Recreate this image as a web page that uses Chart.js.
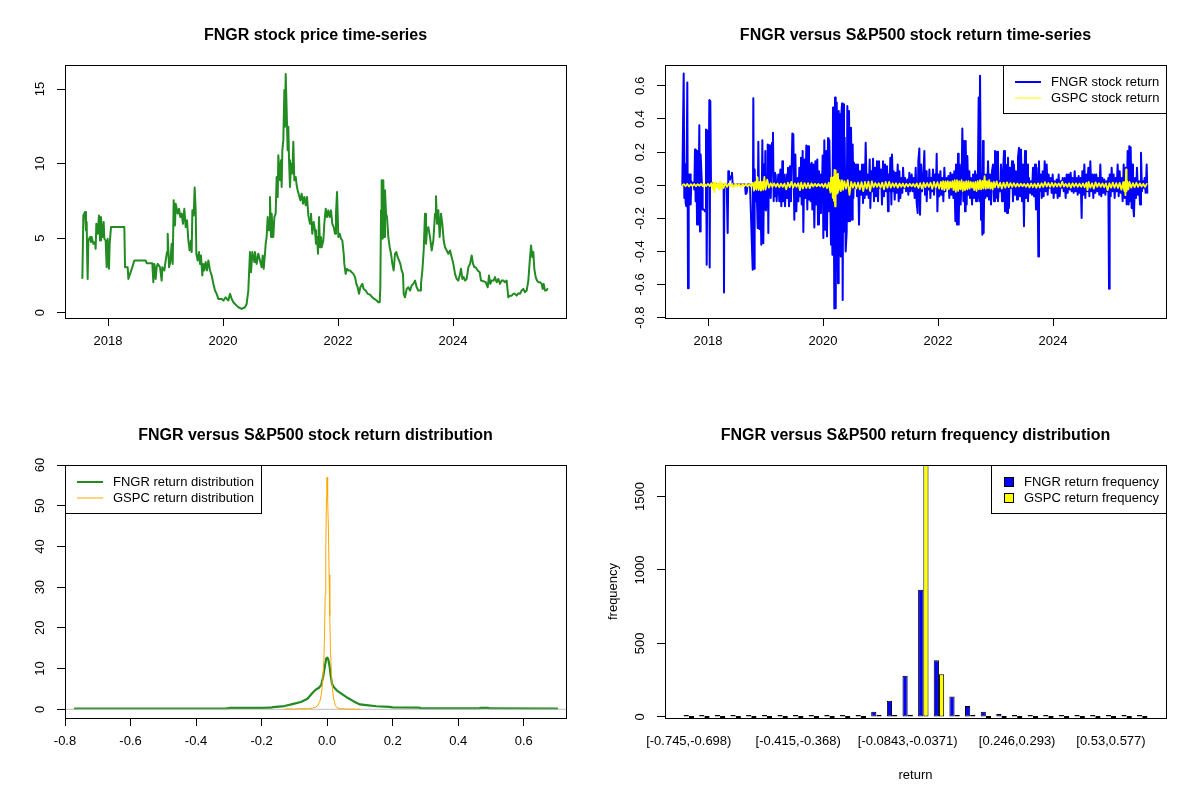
<!DOCTYPE html>
<html lang="en">
<head>
  <meta charset="UTF-8" />
  <title>FNGR versus S&amp;P500</title>
  <script src="https://cdn.jsdelivr.net/npm/chart.js"></script>
  <style>
    body { margin: 0; background: #fff; }
    #grid { position: relative; width: 1200px; height: 800px; }
    .panel { position: absolute; width: 600px; height: 400px; }
  </style>
</head>
<body>

<div id="grid">
  <div class="panel" style="left:0;top:0"><canvas id="priceChart" width="600" height="400"></canvas></div>
  <div class="panel" style="left:600px;top:0"><canvas id="returnChart" width="600" height="400"></canvas></div>
  <div class="panel" style="left:0;top:400px"><canvas id="densityChart" width="600" height="400"></canvas></div>
  <div class="panel" style="left:600px;top:400px"><canvas id="freqChart" width="600" height="400"></canvas></div>
</div>

<script>
  // ---- tick values / labels ----
  const yearTicks = [2018, 2020, 2022, 2024];
  const yearLabels = ['2018', '2020', '2022', '2024'];
  const priceTicks = [0, 5, 10, 15];
  const priceLabels = ['0', '5', '10', '15'];
  const returnTicks = [-0.8, -0.6, -0.4, -0.2, 0, 0.2, 0.4, 0.6];
  const returnLabels = ['-0.8', '-0.6', '-0.4', '-0.2', '0.0', '0.2', '0.4', '0.6'];
  const densityTicks = [0, 10, 20, 30, 40, 50, 60];
  const densityLabels = ['0', '10', '20', '30', '40', '50', '60'];
  const freqTicks = [0, 500, 1000, 1500];
  const freqLabels = ['0', '500', '1000', '1500'];

  // ---- FNGR closing price [year, price] ----
  const fngrPrice = [
    [2017.554,2.33],[2017.571,6.52],[2017.600,6.75],[2017.617,5.52],[2017.629,6.08],[2017.635,4.28],[2017.646,2.26],
    [2017.658,4.84],[2017.687,5.07],[2017.704,4.73],[2017.716,5.07],[2017.745,4.62],[2017.774,4.73],[2017.785,4.28],
    [2017.797,5.96],[2017.820,5.29],[2017.843,6.52],[2017.861,4.84],[2017.878,6.41],[2017.901,5.07],[2017.925,6.08],
    [2017.936,4.96],[2017.959,4.84],[2017.977,3.05],[2017.994,4.96],[2018.017,2.94],[2018.029,4.62],[2018.052,5.74],
    [2018.284,5.74],[2018.296,3.05],[2018.342,3.05],[2018.354,2.26],[2018.383,2.60],[2018.423,3.05],[2018.458,3.50],
    [2018.655,3.50],[2018.672,3.32],[2018.771,3.32],[2018.788,2.04],[2018.806,3.27],[2018.829,2.26],[2018.846,3.05],
    [2018.864,3.27],[2018.904,3.05],[2018.933,2.15],[2018.945,3.05],[2018.980,2.83],[2019.003,3.50],[2019.026,4.06],
    [2019.038,5.29],[2019.061,3.05],[2019.084,3.39],[2019.107,4.62],[2019.125,3.27],[2019.142,7.53],[2019.165,5.85],
    [2019.177,7.31],[2019.211,6.64],[2019.235,6.97],[2019.258,6.41],[2019.281,6.64],[2019.304,5.96],[2019.327,6.97],
    [2019.351,5.74],[2019.374,6.19],[2019.397,4.84],[2019.420,4.17],[2019.443,4.84],[2019.455,4.06],[2019.467,6.86],
    [2019.490,6.52],[2019.507,8.39],[2019.525,6.86],[2019.536,3.95],[2019.559,3.50],[2019.582,4.06],[2019.600,3.27],
    [2019.617,3.83],[2019.640,2.49],[2019.658,3.27],[2019.675,2.83],[2019.698,3.39],[2019.722,2.83],[2019.745,3.50],
    [2019.774,2.83],[2019.803,2.49],[2019.832,1.93],[2019.861,1.48],[2019.890,1.26],[2019.919,0.92],[2019.977,0.92],
    [2020.006,0.81],[2020.046,1.03],[2020.093,0.81],[2020.122,1.26],[2020.151,0.92],[2020.180,0.70],[2020.209,0.58],
    [2020.238,0.47],[2020.267,0.36],[2020.325,0.25],[2020.382,0.36],[2020.411,0.58],[2020.440,1.48],[2020.469,4.06],
    [2020.487,2.71],[2020.510,4.06],[2020.545,3.39],[2020.556,4.06],[2020.585,3.27],[2020.614,3.95],[2020.643,3.50],
    [2020.672,3.05],[2020.690,3.83],[2020.707,2.94],[2020.730,3.95],[2020.742,4.62],[2020.759,5.07],[2020.777,6.41],
    [2020.800,5.52],[2020.817,7.76],[2020.835,5.07],[2020.846,6.64],[2020.858,5.74],[2020.875,5.07],[2020.893,6.41],
    [2020.916,6.64],[2020.933,9.10],[2020.951,7.76],[2020.962,10.56],[2020.991,8.88],[2021.009,10.22],[2021.020,8.43],
    [2021.032,10.90],[2021.049,11.57],[2021.067,14.93],[2021.078,12.47],[2021.090,16.01],[2021.107,13.59],[2021.124,10.90],
    [2021.136,12.47],[2021.148,10.22],[2021.165,8.43],[2021.182,10.00],[2021.206,9.33],[2021.223,11.46],[2021.240,8.88],
    [2021.264,9.10],[2021.281,8.54],[2021.298,8.21],[2021.322,7.87],[2021.345,7.53],[2021.368,7.98],[2021.391,7.31],
    [2021.414,7.76],[2021.438,7.20],[2021.461,7.76],[2021.484,6.52],[2021.513,5.96],[2021.530,6.64],[2021.553,5.29],
    [2021.577,6.08],[2021.600,5.52],[2021.617,4.62],[2021.635,5.07],[2021.652,3.95],[2021.670,6.41],[2021.687,4.39],
    [2021.704,5.07],[2021.716,4.39],[2021.745,4.84],[2021.762,5.96],[2021.786,6.97],[2021.809,6.41],[2021.832,6.86],
    [2021.855,6.41],[2021.878,6.86],[2021.901,5.96],[2021.925,5.74],[2021.948,5.29],[2021.965,6.64],[2021.983,8.09],
    [2022.006,5.07],[2022.029,5.29],[2022.052,4.96],[2022.075,4.84],[2022.099,3.95],[2022.110,3.27],[2022.133,2.60],
    [2022.157,2.94],[2022.180,2.83],[2022.209,2.83],[2022.238,2.71],[2022.267,2.60],[2022.296,2.38],[2022.319,1.93],
    [2022.342,1.70],[2022.365,1.26],[2022.388,1.70],[2022.423,1.93],[2022.446,1.59],[2022.481,1.48],[2022.516,1.26],
    [2022.557,1.21],[2022.597,1.03],[2022.632,0.92],[2022.672,0.81],[2022.701,0.70],[2022.725,0.70],[2022.736,1.70],
    [2022.748,6.86],[2022.759,8.88],[2022.777,4.96],[2022.788,8.88],[2022.800,5.07],[2022.817,8.21],[2022.835,6.64],
    [2022.852,6.41],[2022.875,5.07],[2022.899,4.39],[2022.922,3.95],[2022.945,3.27],[2022.968,2.83],[2022.991,3.95],
    [2023.014,4.06],[2023.038,3.72],[2023.061,3.50],[2023.084,3.27],[2023.107,2.83],[2023.130,2.60],[2023.142,1.26],
    [2023.165,1.03],[2023.194,1.59],[2023.223,1.70],[2023.252,1.48],[2023.281,1.82],[2023.310,1.93],[2023.339,2.15],
    [2023.368,1.70],[2023.397,1.48],[2023.426,1.48],[2023.443,1.93],[2023.467,2.83],[2023.490,4.17],[2023.513,6.64],
    [2023.530,4.62],[2023.548,5.52],[2023.571,5.74],[2023.600,5.07],[2023.629,4.17],[2023.658,4.84],[2023.687,6.64],
    [2023.704,7.80],[2023.722,5.96],[2023.745,6.86],[2023.768,5.07],[2023.791,6.64],[2023.814,5.96],[2023.838,4.84],
    [2023.861,4.39],[2023.890,4.17],[2023.919,3.95],[2023.948,4.17],[2023.977,3.72],[2024.006,3.27],[2024.035,2.60],
    [2024.064,2.26],[2024.093,2.15],[2024.122,2.60],[2024.139,2.94],[2024.162,2.26],[2024.185,2.38],[2024.209,2.15],
    [2024.238,2.26],[2024.267,3.05],[2024.296,3.27],[2024.325,3.83],[2024.348,3.27],[2024.371,3.05],[2024.394,3.05],
    [2024.429,2.83],[2024.464,2.71],[2024.487,2.15],[2024.527,2.11],[2024.568,2.04],[2024.603,1.70],[2024.626,2.49],
    [2024.649,1.93],[2024.672,2.15],[2024.707,2.15],[2024.730,2.38],[2024.759,2.04],[2024.788,2.26],[2024.817,1.93],
    [2024.846,2.15],[2024.875,2.15],[2024.904,2.04],[2024.933,2.15],[2024.962,1.03],[2024.991,1.14],[2025.020,1.14],
    [2025.049,1.26],[2025.078,1.26],[2025.107,1.14],[2025.136,1.30],[2025.165,1.26],[2025.194,1.48],[2025.223,1.59],
    [2025.252,1.37],[2025.281,1.48],[2025.310,2.15],[2025.333,3.39],[2025.357,4.51],[2025.380,3.72],[2025.397,4.06],
    [2025.414,2.94],[2025.438,2.38],[2025.461,2.15],[2025.484,2.04],[2025.513,2.04],[2025.542,1.93],[2025.559,1.59],
    [2025.577,1.93],[2025.600,1.48],[2025.623,1.48],[2025.641,1.59]
  ];

  // ---- FNGR daily return [year, return] ----
  const fngrReturn = [
    [2017.553,0.0],[2017.577,0.675],[2017.588,-0.077],[2017.600,0.125],[2017.611,-0.107],[2017.623,-0.127],[2017.640,0.620],
    [2017.652,-0.622],[2017.664,0.065],[2017.675,-0.016],[2017.687,0.065],[2017.698,-0.117],[2017.710,0.024],[2017.722,0.004],
    [2017.745,0.014],[2017.762,-0.026],[2017.774,0.216],[2017.785,-0.097],[2017.797,0.210],[2017.809,-0.238],[2017.820,0.206],
    [2017.832,-0.238],[2017.849,0.362],[2017.861,-0.279],[2017.872,0.186],[2017.896,-0.016],[2017.907,-0.147],[2017.930,-0.147],
    [2017.948,-0.158],[2017.965,0.337],[2017.977,-0.481],[2017.994,0.331],[2018.011,-0.006],[2018.023,0.513],[2018.029,-0.497],
    [2018.040,0.509],[2018.052,0.004],[2018.064,0.014],[2018.093,0.004],[2018.122,0.008],[2018.180,0.004],[2018.226,0.004],
    [2018.272,0.0],[2018.278,-0.648],[2018.284,0.004],[2018.307,-0.006],[2018.325,0.004],[2018.342,-0.289],[2018.353,0.085],
    [2018.365,0.044],[2018.382,0.034],[2018.400,0.055],[2018.417,0.075],[2018.429,0.004],[2018.469,0.004],[2018.585,0.004],
    [2018.643,0.004],[2018.655,-0.053],[2018.672,-0.046],[2018.690,0.004],[2018.730,0.004],[2018.777,-0.511],[2018.788,0.525],
    [2018.800,-0.505],[2018.811,0.095],[2018.823,-0.097],[2018.835,-0.036],[2018.852,-0.097],[2018.864,-0.259],[2018.875,0.263],
    [2018.893,-0.265],[2018.910,-0.036],[2018.927,-0.360],[2018.945,0.271],[2018.962,-0.350],[2018.974,0.125],[2018.985,-0.147],
    [2018.997,0.206],[2019.009,-0.152],[2019.026,0.065],[2019.038,0.246],[2019.049,-0.289],[2019.061,0.242],[2019.078,0.065],
    [2019.090,-0.077],[2019.101,0.065],[2019.113,0.257],[2019.130,0.317],[2019.142,-0.097],[2019.153,0.075],[2019.165,-0.067],
    [2019.177,0.065],[2019.194,-0.097],[2019.206,-0.016],[2019.223,0.065],[2019.240,-0.097],[2019.258,0.095],[2019.275,-0.127],
    [2019.293,0.145],[2019.304,-0.097],[2019.322,0.065],[2019.339,-0.127],[2019.362,0.065],[2019.374,-0.077],[2019.391,0.105],
    [2019.409,-0.127],[2019.426,0.115],[2019.443,-0.097],[2019.467,0.313],[2019.484,0.307],[2019.501,-0.208],[2019.519,0.186],
    [2019.536,-0.158],[2019.553,0.044],[2019.571,-0.097],[2019.588,0.105],[2019.600,-0.067],[2019.617,0.166],[2019.629,-0.117],
    [2019.646,0.206],[2019.658,-0.283],[2019.675,0.156],[2019.693,-0.077],[2019.710,0.240],[2019.727,-0.147],[2019.739,0.236],
    [2019.756,-0.087],[2019.774,0.125],[2019.785,-0.097],[2019.803,0.135],[2019.814,-0.147],[2019.832,0.125],[2019.849,-0.255],
    [2019.867,0.145],[2019.884,-0.117],[2019.901,0.156],[2019.913,-0.238],[2019.930,0.085],[2019.948,-0.168],[2019.965,0.065],
    [2019.977,-0.107],[2019.994,0.180],[2020.006,-0.319],[2020.023,0.271],[2020.040,-0.269],[2020.058,0.206],[2020.069,-0.309],
    [2020.087,0.283],[2020.098,-0.158],[2020.110,0.271],[2020.139,-0.360],[2020.151,0.004],[2020.163,-0.420],[2020.174,0.469],
    [2020.186,0.004],[2020.197,-0.745],[2020.209,0.529],[2020.221,-0.743],[2020.238,0.499],[2020.250,0.125],[2020.261,-0.592],
    [2020.273,0.448],[2020.284,-0.370],[2020.296,0.428],[2020.308,-0.430],[2020.319,0.428],[2020.331,0.493],[2020.342,-0.693],
    [2020.354,0.489],[2020.365,-0.279],[2020.377,0.287],[2020.394,-0.400],[2020.412,-0.279],[2020.423,0.479],[2020.441,-0.218],
    [2020.452,0.448],[2020.470,-0.218],[2020.487,0.347],[2020.505,-0.208],[2020.516,0.246],[2020.528,-0.077],[2020.539,0.135],
    [2020.557,-0.016],[2020.574,0.125],[2020.592,-0.067],[2020.609,0.125],[2020.626,-0.238],[2020.644,0.085],[2020.661,-0.057],
    [2020.679,0.125],[2020.696,-0.107],[2020.713,0.125],[2020.725,-0.077],[2020.742,0.257],[2020.760,-0.057],[2020.777,0.065],
    [2020.794,-0.077],[2020.812,0.156],[2020.823,-0.137],[2020.841,0.085],[2020.858,-0.036],[2020.870,0.160],[2020.887,-0.097],
    [2020.905,0.105],[2020.922,-0.067],[2020.939,0.145],[2020.957,-0.097],[2020.974,0.145],[2020.992,-0.016],[2021.009,0.095],
    [2021.026,-0.117],[2021.044,0.145],[2021.061,-0.067],[2021.079,0.125],[2021.096,-0.036],[2021.113,0.115],[2021.131,-0.158],
    [2021.142,0.065],[2021.154,-0.036],[2021.171,0.166],[2021.189,-0.117],[2021.200,0.186],[2021.218,-0.036],[2021.229,0.085],
    [2021.247,-0.087],[2021.264,0.075],[2021.281,-0.046],[2021.299,0.125],[2021.316,-0.097],[2021.328,0.085],[2021.345,-0.077],
    [2021.363,0.044],[2021.380,-0.046],[2021.392,0.105],[2021.409,-0.016],[2021.426,0.044],[2021.444,-0.036],[2021.467,0.034],
    [2021.484,-0.057],[2021.502,0.075],[2021.519,-0.036],[2021.542,0.065],[2021.560,-0.036],[2021.577,0.044],[2021.594,-0.077],
    [2021.612,0.105],[2021.629,-0.107],[2021.647,-0.168],[2021.658,0.145],[2021.676,0.222],[2021.687,-0.178],[2021.705,0.125],
    [2021.722,-0.036],[2021.745,0.065],[2021.763,0.206],[2021.774,-0.057],[2021.792,0.085],[2021.803,-0.097],[2021.821,0.044],
    [2021.838,-0.026],[2021.850,0.095],[2021.867,-0.077],[2021.884,0.044],[2021.896,-0.036],[2021.913,0.095],[2021.931,-0.057],
    [2021.948,0.065],[2021.965,-0.016],[2021.977,0.190],[2021.989,-0.158],[2022.006,0.065],[2022.023,-0.067],[2022.041,0.085],
    [2022.058,-0.057],[2022.076,0.044],[2022.093,-0.097],[2022.110,0.105],[2022.128,-0.036],[2022.145,0.044],[2022.163,-0.016],
    [2022.180,0.055],[2022.197,-0.077],[2022.215,0.075],[2022.232,-0.057],[2022.250,0.065],[2022.267,-0.077],[2022.284,0.085],
    [2022.302,-0.218],[2022.313,0.125],[2022.331,-0.238],[2022.348,0.190],[2022.360,-0.238],[2022.377,0.125],[2022.394,-0.117],
    [2022.412,0.065],[2022.423,0.343],[2022.441,-0.097],[2022.452,0.267],[2022.470,-0.158],[2022.481,0.267],[2022.499,-0.117],
    [2022.510,0.176],[2022.528,-0.057],[2022.545,0.085],[2022.557,-0.077],[2022.574,0.044],[2022.592,-0.117],[2022.609,0.065],
    [2022.626,-0.077],[2022.644,0.085],[2022.661,-0.097],[2022.678,0.065],[2022.690,-0.077],[2022.707,0.529],[2022.719,-0.097],
    [2022.731,0.661],[2022.748,-0.208],[2022.760,0.065],[2022.771,-0.299],[2022.783,0.267],[2022.794,-0.289],[2022.806,0.065],
    [2022.823,-0.077],[2022.841,0.065],[2022.858,-0.067],[2022.870,0.145],[2022.887,-0.087],[2022.905,0.065],[2022.922,-0.117],
    [2022.939,0.085],[2022.957,0.125],[2022.974,-0.097],[2022.991,0.206],[2023.008,-0.077],[2023.026,0.202],[2023.043,-0.097],
    [2023.061,0.024],[2023.078,-0.036],[2023.095,0.125],[2023.113,-0.097],[2023.130,0.065],[2023.148,0.206],[2023.165,-0.158],
    [2023.182,0.125],[2023.200,-0.168],[2023.217,0.166],[2023.234,-0.137],[2023.252,0.105],[2023.269,-0.016],[2023.287,0.145],
    [2023.304,-0.097],[2023.321,0.125],[2023.339,-0.057],[2023.356,0.085],[2023.374,-0.087],[2023.391,0.166],[2023.408,0.226],
    [2023.426,-0.067],[2023.443,0.216],[2023.461,-0.097],[2023.478,0.125],[2023.495,-0.248],[2023.513,0.206],[2023.530,-0.077],
    [2023.548,0.125],[2023.565,-0.097],[2023.582,0.044],[2023.600,-0.046],[2023.617,0.024],[2023.634,-0.057],[2023.652,0.105],
    [2023.669,-0.067],[2023.687,0.125],[2023.704,-0.147],[2023.716,0.105],[2023.733,-0.067],[2023.745,-0.430],[2023.756,0.145],
    [2023.768,-0.036],[2023.785,0.065],[2023.803,-0.077],[2023.820,0.085],[2023.837,-0.067],[2023.855,0.145],[2023.872,-0.036],
    [2023.890,0.125],[2023.907,-0.057],[2023.924,0.065],[2023.942,-0.016],[2023.959,0.044],[2023.976,-0.046],[2023.994,0.065],
    [2024.011,-0.077],[2024.029,0.024],[2024.046,-0.046],[2024.063,0.034],[2024.081,-0.077],[2024.098,0.065],[2024.116,-0.067],
    [2024.133,0.024],[2024.150,-0.016],[2024.168,0.044],[2024.185,-0.036],[2024.203,0.044],[2024.220,-0.077],[2024.237,0.065],
    [2024.255,-0.046],[2024.272,0.065],[2024.290,-0.026],[2024.307,0.075],[2024.324,-0.036],[2024.342,0.044],[2024.359,-0.046],
    [2024.377,0.085],[2024.394,-0.036],[2024.411,0.044],[2024.429,-0.057],[2024.446,0.055],[2024.463,-0.046],[2024.481,0.044],
    [2024.498,-0.198],[2024.510,0.085],[2024.527,-0.057],[2024.545,0.125],[2024.562,-0.077],[2024.579,0.065],[2024.597,-0.036],
    [2024.614,0.105],[2024.632,-0.067],[2024.649,0.145],[2024.666,-0.036],[2024.684,0.065],[2024.701,-0.077],[2024.719,0.065],
    [2024.736,-0.046],[2024.753,0.065],[2024.771,-0.036],[2024.788,0.044],[2024.805,-0.057],[2024.823,0.125],[2024.840,-0.067],
    [2024.858,0.044],[2024.875,-0.046],[2024.892,0.034],[2024.910,-0.057],[2024.927,0.024],[2024.945,-0.036],[2024.962,0.044],
    [2024.974,-0.626],[2024.985,0.065],[2025.003,-0.067],[2025.020,0.105],[2025.037,-0.036],[2025.055,0.065],[2025.072,-0.077],
    [2025.090,0.044],[2025.107,-0.036],[2025.124,0.125],[2025.142,-0.067],[2025.159,0.085],[2025.177,-0.046],[2025.194,0.044],
    [2025.211,-0.097],[2025.229,0.125],[2025.246,-0.077],[2025.264,0.105],[2025.281,-0.117],[2025.298,0.206],[2025.316,-0.117],
    [2025.327,0.236],[2025.339,-0.097],[2025.350,0.230],[2025.368,-0.137],[2025.379,0.125],[2025.391,-0.117],[2025.408,-0.188],
    [2025.426,0.044],[2025.443,-0.077],[2025.460,0.105],[2025.478,-0.057],[2025.495,0.024],[2025.513,-0.117],[2025.530,0.196],
    [2025.547,-0.036],[2025.565,0.024],[2025.576,-0.016],[2025.594,0.044],[2025.611,-0.046],[2025.629,0.125],[2025.640,-0.046]
  ];

  // ---- S&P500 (GSPC) daily return [year, return] ----
  const gspcReturn = [
    [2017.553,0.0],[2017.58,0.006],[2017.61,-0.006],[2017.64,0.008],[2017.67,-0.008],[2017.70,0.006],[2017.73,-0.005],
    [2017.76,0.007],[2017.79,-0.006],[2017.82,0.006],[2017.85,-0.004],[2017.88,0.008],[2017.91,-0.006],[2017.94,0.007],
    [2017.97,-0.005],[2018.00,0.008],[2018.03,-0.006],[2018.06,0.012],[2018.08,-0.022],[2018.10,0.017],[2018.11,-0.041],
    [2018.13,0.015],[2018.15,-0.012],[2018.17,0.010],[2018.19,-0.025],[2018.21,0.020],[2018.23,-0.022],[2018.25,0.011],
    [2018.27,-0.017],[2018.30,0.012],[2018.33,-0.010],[2018.36,0.009],[2018.39,-0.008],[2018.42,0.008],[2018.45,-0.011],
    [2018.48,0.009],[2018.51,-0.006],[2018.54,0.006],[2018.57,-0.008],[2018.60,0.006],[2018.63,-0.005],[2018.66,0.006],
    [2018.69,-0.006],[2018.72,0.005],[2018.75,-0.007],[2018.78,0.015],[2018.80,-0.032],[2018.82,0.020],[2018.84,-0.025],
    [2018.86,0.048],[2018.88,-0.030],[2018.90,0.020],[2018.92,-0.033],[2018.94,0.022],[2018.96,-0.028],[2018.98,0.050],
    [2019.00,-0.026],[2019.03,0.034],[2019.06,-0.015],[2019.09,0.012],[2019.12,-0.010],[2019.15,0.011],[2019.18,-0.009],
    [2019.21,0.010],[2019.24,-0.012],[2019.27,0.009],[2019.30,-0.010],[2019.33,0.010],[2019.36,-0.025],[2019.39,0.015],
    [2019.42,-0.012],[2019.45,0.020],[2019.48,-0.015],[2019.51,0.011],[2019.54,-0.010],[2019.57,0.012],[2019.60,-0.030],
    [2019.62,0.015],[2019.65,-0.020],[2019.68,0.013],[2019.71,-0.017],[2019.74,0.012],[2019.77,-0.018],[2019.80,0.011],
    [2019.83,-0.008],[2019.86,0.009],[2019.89,-0.007],[2019.92,0.008],[2019.95,-0.006],[2019.98,0.007],[2020.01,-0.012],
    [2020.04,0.010],[2020.07,-0.018],[2020.10,0.015],[2020.13,-0.045],[2020.14,0.046],[2020.15,-0.034],[2020.16,0.042],
    [2020.17,-0.076],[2020.18,0.049],[2020.19,-0.095],[2020.20,0.093],[2020.21,-0.128],[2020.22,0.090],[2020.23,-0.052],
    [2020.24,0.062],[2020.25,-0.044],[2020.26,0.070],[2020.27,-0.033],[2020.29,0.030],[2020.31,-0.036],[2020.33,0.030],
    [2020.35,-0.028],[2020.37,0.025],[2020.40,-0.020],[2020.43,0.030],[2020.46,-0.059],[2020.49,0.020],[2020.52,-0.015],
    [2020.55,0.015],[2020.58,-0.020],[2020.61,0.015],[2020.64,-0.025],[2020.67,0.018],[2020.70,-0.035],[2020.73,0.020],
    [2020.76,-0.020],[2020.79,0.022],[2020.82,-0.035],[2020.85,0.023],[2020.88,-0.012],[2020.91,0.013],[2020.94,-0.010],
    [2020.97,0.012],[2021.00,-0.015],[2021.03,0.016],[2021.06,-0.025],[2021.09,0.020],[2021.12,-0.015],[2021.15,0.020],
    [2021.18,-0.014],[2021.21,0.012],[2021.24,-0.010],[2021.27,0.012],[2021.30,-0.015],[2021.33,0.010],[2021.36,-0.009],
    [2021.39,0.010],[2021.42,-0.012],[2021.45,0.009],[2021.48,-0.008],[2021.51,0.009],[2021.54,-0.007],[2021.57,0.008],
    [2021.60,-0.010],[2021.63,0.011],[2021.66,-0.017],[2021.69,0.012],[2021.72,-0.020],[2021.75,0.015],[2021.78,-0.012],
    [2021.81,0.013],[2021.84,-0.010],[2021.87,0.015],[2021.90,-0.022],[2021.93,0.020],[2021.96,-0.015],[2021.99,0.018],
    [2022.02,-0.020],[2022.05,0.020],[2022.07,-0.025],[2022.09,0.025],[2022.11,-0.030],[2022.13,0.023],[2022.15,-0.020],
    [2022.17,0.025],[2022.19,-0.023],[2022.21,0.020],[2022.23,-0.015],[2022.25,0.025],[2022.27,-0.030],[2022.29,0.030],
    [2022.31,-0.040],[2022.33,0.030],[2022.35,-0.035],[2022.37,0.025],[2022.39,-0.025],[2022.41,0.030],[2022.43,-0.035],
    [2022.45,0.020],[2022.47,-0.030],[2022.49,0.024],[2022.51,-0.025],[2022.53,0.025],[2022.55,-0.020],[2022.57,0.020],
    [2022.59,-0.015],[2022.61,0.017],[2022.63,-0.030],[2022.65,0.020],[2022.67,-0.035],[2022.69,0.025],[2022.71,-0.025],
    [2022.73,0.030],[2022.75,-0.025],[2022.77,0.026],[2022.79,-0.020],[2022.81,0.054],[2022.83,-0.022],[2022.85,0.025],
    [2022.87,-0.018],[2022.89,0.030],[2022.91,-0.020],[2022.93,0.015],[2022.95,-0.025],[2022.97,0.020],[2022.99,-0.013],
    [2023.02,0.023],[2023.05,-0.015],[2023.08,0.015],[2023.11,-0.020],[2023.14,0.016],[2023.17,-0.015],[2023.20,0.017],
    [2023.23,-0.012],[2023.26,0.013],[2023.29,-0.010],[2023.32,0.012],[2023.35,-0.009],[2023.38,0.010],[2023.41,-0.008],
    [2023.44,0.009],[2023.47,-0.007],[2023.50,0.008],[2023.53,-0.009],[2023.56,0.009],[2023.59,-0.013],[2023.62,0.010],
    [2023.65,-0.012],[2023.68,0.009],[2023.71,-0.015],[2023.74,0.011],[2023.77,-0.014],[2023.80,0.012],[2023.83,-0.010],
    [2023.86,0.018],[2023.89,-0.008],[2023.92,0.013],[2023.95,-0.010],[2023.98,0.014],[2024.01,-0.010],[2024.04,0.012],
    [2024.07,-0.008],[2024.10,0.011],[2024.13,-0.009],[2024.16,0.020],[2024.19,-0.008],[2024.22,0.009],[2024.25,-0.010],
    [2024.28,0.011],[2024.31,-0.015],[2024.34,0.012],[2024.37,-0.009],[2024.40,0.011],[2024.43,-0.010],[2024.46,0.010],
    [2024.49,-0.010],[2024.52,0.011],[2024.55,-0.012],[2024.58,0.014],[2024.60,-0.030],[2024.62,0.020],[2024.65,-0.015],
    [2024.68,0.012],[2024.71,-0.020],[2024.74,0.017],[2024.77,-0.010],[2024.80,0.012],[2024.83,-0.010],[2024.86,0.011],
    [2024.89,-0.012],[2024.92,0.011],[2024.95,-0.030],[2024.98,0.012],[2025.01,-0.015],[2025.04,0.016],[2025.07,-0.015],
    [2025.10,0.013],[2025.13,-0.016],[2025.16,0.014],[2025.19,-0.027],[2025.22,0.018],[2025.24,-0.035],[2025.25,0.020],
    [2025.26,-0.060],[2025.27,0.095],[2025.28,-0.035],[2025.29,0.025],[2025.31,-0.025],[2025.33,0.020],[2025.36,-0.015],
    [2025.39,0.013],[2025.42,-0.012],[2025.45,0.015],[2025.48,-0.010],[2025.51,0.011],[2025.54,-0.008],[2025.57,0.009],
    [2025.60,-0.010],[2025.63,0.008]
  ];

  // ---- kernel densities of the returns [return, density] ----
  const fngrDensity = [
    [-0.770,0.15],[-0.600,0.15],[-0.450,0.15],[-0.310,0.16],[-0.295,0.35],[-0.200,0.35],[-0.170,0.40],[-0.165,0.55],
    [-0.130,0.80],[-0.100,1.40],[-0.080,1.80],[-0.060,2.60],[-0.045,4.00],[-0.035,4.80],[-0.025,5.30],[-0.018,6.00],
    [-0.012,8.00],[-0.007,10.5],[-0.003,12.4],[0.000,12.7],[0.003,12.4],[0.007,10.8],[0.011,8.2],[0.015,6.2],
    [0.020,5.5],[0.030,4.6],[0.050,3.5],[0.065,2.7],[0.080,2.0],[0.100,1.2],[0.120,1.0],[0.150,0.75],[0.190,0.60],
    [0.200,0.45],[0.280,0.40],[0.290,0.20],[0.460,0.20],[0.470,0.35],[0.490,0.35],[0.500,0.20],[0.702,0.15]
  ];
  const gspcDensity = [
    [-0.130,0.0],[-0.120,0.10],[-0.100,0.05],[-0.080,0.15],[-0.060,0.10],[-0.045,0.30],[-0.035,0.50],[-0.028,1.0],
    [-0.022,2.0],[-0.017,4.0],[-0.013,7.5],[-0.010,12],[-0.008,18],[-0.006,28],[-0.004,40],[-0.002,52],[-0.001,56.5],
    [0.000,57],[0.001,56],[0.002,52],[0.004,44],[0.006,33],[0.008,23],[0.010,15],[0.013,9],[0.016,5],[0.020,2.5],
    [0.025,1.0],[0.030,0.4],[0.040,0.15],[0.060,0.05],[0.090,0.0],[0.100,0.0]
  ];

  // ---- return frequency table (30 bins of width 0.0472, from -0.745) ----
  const binShownIndex = [0, 7, 14, 21, 27];
  const binShownLabels = ['[-0.745,-0.698)', '[-0.415,-0.368)', '[-0.0843,-0.0371)', '[0.246,0.293)', '[0.53,0.577)'];
  const fngrFreq = [1, 1, 3, 1, 3, 3, 3, 1, 4, 12, 12, 13, 35, 110, 280, 865, 385, 140, 75, 35, 20, 12, 4, 4, 4, 4, 4, 2, 4, 1];
  const gspcFreq = [0, 0, 0, 0, 0, 0, 0, 0, 0, 0, 0, 0, 1, 5, 15, 1720, 290, 8, 2, 0, 0, 0, 0, 0, 0, 0, 0, 0, 0, 0];

  // ---------------------------------------------------------------
  const FONT = "'Liberation Sans', Arial, Helvetica, sans-serif";
  Chart.defaults.font.family = FONT;
  Chart.defaults.font.size = 13;
  Chart.defaults.color = '#000';

  const pts = arr => arr.map(([x, y]) => ({ x, y }));
  // barplot(beside = TRUE): space 1 + two bars of width 1, so group k sits at 3k + 2
  const groupX = k => 3 * k + 2;

  // box around the plot region, like R's box()
  const boxPlugin = {
    id: 'rbox',
    afterDraw(chart) {
      const { ctx, chartArea: a } = chart;
      ctx.save();
      ctx.strokeStyle = '#000';
      ctx.lineWidth = 1;
      ctx.strokeRect(Math.round(a.left) + 0.5, Math.round(a.top) + 0.5,
                     Math.round(a.right - a.left), Math.round(a.bottom - a.top));
      ctx.restore();
    }
  };

  // R style legend box in a corner of the plot region
  const legendPlugin = {
    id: 'rlegend',
    afterDraw(chart, args, opts) {
      if (!opts.corner) return;
      const { ctx, chartArea: a } = chart;
      const sets = chart.data.datasets.filter(d => d.inLegend);
      ctx.save();
      ctx.font = '13px ' + FONT;
      const textW = Math.max(...sets.map(d => ctx.measureText(d.label).width));
      const w = Math.round(opts.textOffset + textW + 7);
      const h = 48;
      const x0 = Math.round(opts.corner === 'topleft' ? a.left : a.right - w);
      const y0 = Math.round(a.top);
      ctx.fillStyle = '#fff';
      ctx.fillRect(x0, y0, w, h);
      ctx.strokeStyle = '#000';
      ctx.lineWidth = 1;
      ctx.strokeRect(x0 + 0.5, y0 + 0.5, w, h);
      sets.forEach((d, i) => {
        const cy = y0 + 17 + i * 16;
        if (opts.kind === 'box') {
          ctx.fillStyle = d.backgroundColor;
          ctx.fillRect(x0 + 13, cy - 5, 10, 10);
          ctx.strokeStyle = '#000';
          ctx.lineWidth = 1;
          ctx.strokeRect(x0 + 13.5, cy - 4.5, 9, 9);
        } else {
          ctx.strokeStyle = d.borderColor;
          ctx.lineWidth = d.legendWidth || d.borderWidth;
          ctx.beginPath();
          ctx.moveTo(x0 + 12, cy);
          ctx.lineTo(x0 + 38, cy);
          ctx.stroke();
        }
        ctx.fillStyle = '#000';
        ctx.textBaseline = 'middle';
        ctx.fillText(d.label, x0 + opts.textOffset, cy);
      });
      ctx.restore();
    }
  };

  const tickGrid = { drawOnChartArea: false, drawTicks: true, tickLength: 8, color: '#000', lineWidth: 1 };

  function xAxis(min, max, tickVals, tickLabels, extra = {}) {
    return {
      type: 'linear', min, max, offset: false,
      afterBuildTicks: s => { s.ticks = tickVals.map(v => ({ value: v })); },
      afterFit: s => { s.height = 82; },
      ticks: {
        autoSkip: false, minRotation: 0, maxRotation: 0,
        padding: extra.noTicks ? 16 : 8,
        callback: (v, i) => tickLabels[i]
      },
      grid: extra.noTicks ? { display: false, drawTicks: false, offset: false } : tickGrid,
      border: { display: false },
      title: extra.title
        ? { display: true, text: extra.title, padding: { top: 0, bottom: 17 } }
        : { display: false }
    };
  }

  function yAxis(min, max, tickVals, tickLabels, pad, title) {
    return {
      type: 'linear', min, max,
      afterBuildTicks: s => { s.ticks = tickVals.map(v => ({ value: v })); },
      afterFit: s => { s.width = 65; },
      ticks: {
        autoSkip: false, minRotation: 90, maxRotation: 90, crossAlign: 'center',
        padding: pad,
        callback: (v, i) => tickLabels[i]
      },
      grid: tickGrid,
      border: { display: false },
      title: title
        ? { display: true, text: title, padding: { top: 6, bottom: 0 } }
        : { display: false }
    };
  }

  function baseOptions(titleText, scales, legend) {
    return {
      responsive: false,
      animation: false,
      devicePixelRatio: 1,
      layout: { padding: { left: 0, right: 34, top: 0, bottom: 0 } },
      plugins: {
        legend: { display: false },
        tooltip: { enabled: false },
        title: {
          display: true, text: titleText, fullSize: false,
          font: { size: 16, weight: 'bold' },
          padding: { top: 26, bottom: 19.8 }
        },
        rlegend: legend || {}
      },
      elements: { point: { radius: 0 }, line: { tension: 0, borderJoinStyle: 'round', borderCapStyle: 'round' } },
      scales
    };
  }

  // FNGR price
  new Chart(document.getElementById('priceChart'), {
    type: 'line',
    data: {
      datasets: [{
        label: 'FNGR', data: pts(fngrPrice),
        borderColor: '#228B22', borderWidth: 2
      }]
    },
    options: baseOptions('FNGR stock price time-series', {
      x: xAxis(2017.252, 2025.965, yearTicks, yearLabels),
      y: yAxis(-0.36, 16.61, priceTicks, priceLabels, 9.8)
    }),
    plugins: [boxPlugin, legendPlugin]
  });

  // FNGR vs GSPC returns
  new Chart(document.getElementById('returnChart'), {
    type: 'line',
    data: {
      datasets: [
        { label: 'FNGR stock return', data: pts(fngrReturn), borderColor: '#0000FF', borderWidth: 2, order: 2, inLegend: true },
        { label: 'GSPC stock return', data: pts(gspcReturn), borderColor: '#FFFF00', borderWidth: 1.8, legendWidth: 1,
          order: 1, inLegend: true }
      ]
    },
    options: baseOptions('FNGR versus S&P500 stock return time-series', {
      x: xAxis(2017.252, 2025.965, yearTicks, yearLabels),
      y: yAxis(-0.802, 0.726, returnTicks, returnLabels, 5.8)
    }, { corner: 'topright', kind: 'line', textOffset: 48 }),
    plugins: [boxPlugin, legendPlugin]
  });

  // return densities
  const densityRange = [-0.8, 0.729];
  new Chart(document.getElementById('densityChart'), {
    type: 'line',
    data: {
      datasets: [
        { label: 'FNGR return distribution', data: pts(fngrDensity), borderColor: '#228B22', borderWidth: 2.2, legendWidth: 2,
          order: 3, inLegend: true },
        { label: 'GSPC return distribution', data: pts(gspcDensity), borderColor: '#FFA500', borderWidth: 1, order: 1, inLegend: true },
        { label: 'zero', data: densityRange.map(x => ({ x, y: 0 })), borderColor: '#BEBEBE', borderWidth: 1, order: 2 }
      ]
    },
    options: baseOptions('FNGR versus S&P500 stock return distribution', {
      x: xAxis(densityRange[0], densityRange[1], returnTicks, returnLabels),
      y: yAxis(-2.14, 60, densityTicks, densityLabels, 9.8)
    }, { corner: 'topleft', kind: 'line', textOffset: 48 }),
    plugins: [boxPlugin, legendPlugin]
  });

  // return frequency barplot
  new Chart(document.getElementById('freqChart'), {
    type: 'bar',
    data: {
      datasets: [
        { label: 'FNGR return frequency', data: fngrFreq.map((v, k) => ({ x: groupX(k), y: v })),
          backgroundColor: '#0000FF', inLegend: true },
        { label: 'GSPC return frequency', data: gspcFreq.map((v, k) => ({ x: groupX(k), y: v })),
          backgroundColor: '#FFFF00', inLegend: true }
      ]
    },
    options: Object.assign(baseOptions('FNGR versus S&P500 return frequency distribution', {
      x: xAxis(-2.56, 93.56, binShownIndex.map(groupX), binShownLabels, { noTicks: true, title: 'return' }),
      y: yAxis(-7, 1714, freqTicks, freqLabels, 2.5, 'frequency')
    }, { corner: 'topright', kind: 'box', textOffset: 33 }), {
      datasets: {
        bar: {
          categoryPercentage: 2 / 3, barPercentage: 1,
          borderColor: '#000', borderWidth: 1, borderSkipped: false,
          minBarLength: 2, inflateAmount: 0
        }
      }
    }),
    plugins: [boxPlugin, legendPlugin]
  });
</script>

</body>
</html>
